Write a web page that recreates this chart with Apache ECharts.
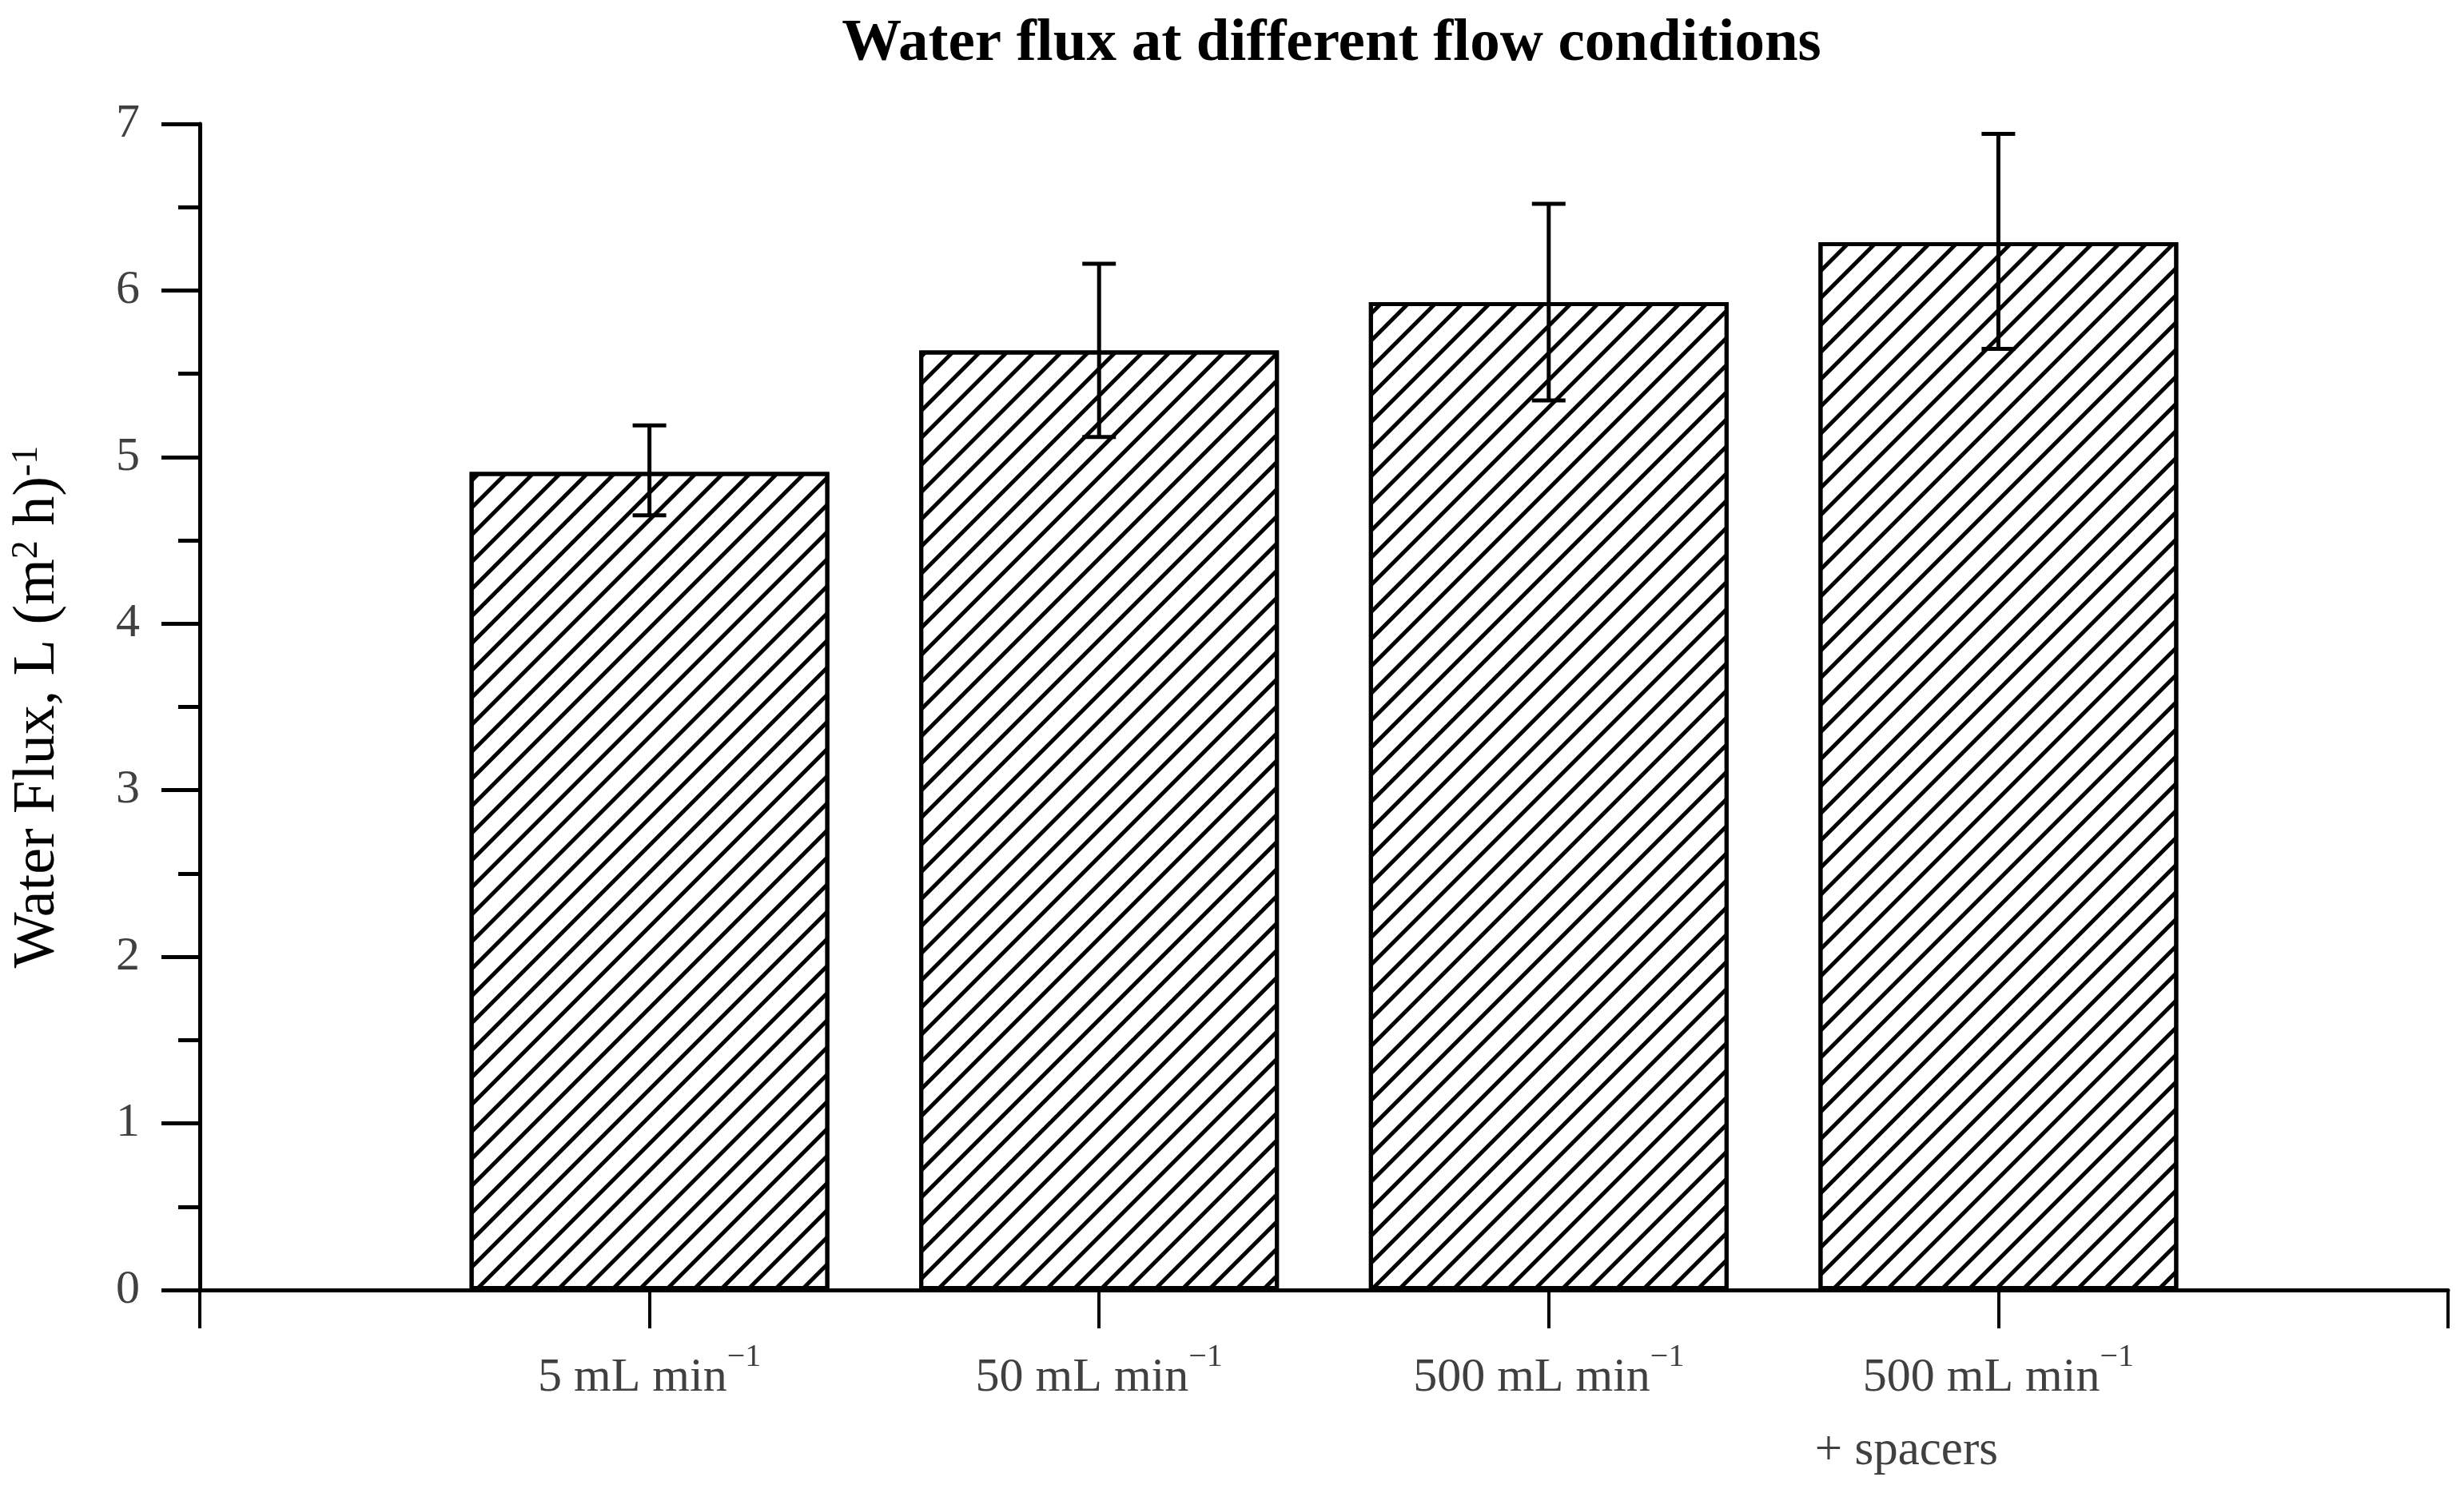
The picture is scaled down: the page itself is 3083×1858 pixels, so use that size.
<!DOCTYPE html>
<html>
<head>
<meta charset="utf-8">
<script src="https://cdn.jsdelivr.net/npm/echarts@6/dist/echarts.min.js"></script>
<style>
  html, body { margin: 0; padding: 0; background: #fff; }
  #chart { width: 3083px; height: 1858px; }
</style>
</head>
<body>
<div id="chart"></div>
<script>

// flow conditions, placed at x = 1..4 on a 0..5 axis
var positions = [1, 2, 3, 4];
var categories = ["5 mL min", "50 mL min", "500 mL min", "500 mL min"];
var secondLine = ["", "", "", "+ spacers"];

// water flux, L (m2 h)-1
var flux = [4.91, 5.64, 5.93, 6.29];
var errLow = [4.65, 5.12, 5.34, 5.65];
var errHigh = [5.19, 6.16, 6.52, 6.94];

var yTicks = [0, 1, 2, 3, 4, 5, 6, 7];


var chart = echarts.init(document.getElementById("chart"));

var barData = [];
var errData = [];
for (var i = 0; i < positions.length; i++) {
  barData.push([positions[i], flux[i]]);
  errData.push([positions[i], errLow[i], errHigh[i]]);
}

var serif = "Liberation Serif";

var option = {
  animation: false,
  backgroundColor: "#fff",

  title: {
    text: "Water flux at different flow conditions",
    left: 1661,
    top: 13,
    textAlign: "center",
    textStyle: {
      fontFamily: serif,
      fontWeight: "bold",
      fontSize: 75,
      color: "#000"
    }
  },

  grid: {
    left: 250,
    right: 20,
    top: 155,
    bottom: 244
  },

  xAxis: {
    type: "value",
    min: 0,
    max: 5,
    interval: 1,
    splitLine: { show: false },
    axisLine: {
      show: true,
      lineStyle: { color: "#000", width: 5 }
    },
    axisTick: {
      show: true,
      length: 48,
      lineStyle: { color: "#000", width: 4 }
    },
    axisLabel: {
      margin: 64,
      showMinLabel: true,
      showMaxLabel: true,
      formatter: function (v) {
        var k = positions.indexOf(Math.round(v));
        if (k < 0) return "";
        var s = "{n|" + categories[k] + "}{s|\u22121}";
        // second line ends at the tick
        if (secondLine[k]) s += "\n{r|" + secondLine[k] + "}";
        return s;
      },
      rich: {
        n: {
          fontFamily: serif,
          fontSize: 60,
          lineHeight: 92,
          color: "#404040"
        },
        s: {
          fontFamily: serif,
          fontSize: 40,
          lineHeight: 58,
          verticalAlign: "top",
          color: "#404040"
        },
        r: {
          fontFamily: serif,
          fontSize: 61,
          lineHeight: 92,
          color: "#404040",
          align: "left",
          padding: [0, 230, 0, 0]
        }
      }
    }
  },

  yAxis: {
    type: "value",
    min: yTicks[0],
    max: yTicks[yTicks.length - 1],
    interval: 1,
    name: "{a|Water Flux, L (m}{s|2}{a| h)}{s|-1}",
    nameLocation: "middle",
    nameGap: 165,
    nameTextStyle: {
      rich: {
        a: {
          fontFamily: serif,
          fontSize: 74,
          lineHeight: 74,
          color: "#000"
        },
        s: {
          fontFamily: serif,
          fontSize: 46,
          lineHeight: 46,
          verticalAlign: "top",
          color: "#000"
        }
      }
    },
    splitLine: { show: false },
    axisLine: {
      show: true,
      lineStyle: { color: "#000", width: 5 }
    },
    axisTick: {
      show: true,
      length: 48,
      lineStyle: { color: "#000", width: 5 }
    },
    minorTick: {
      show: true,
      splitNumber: 2,
      length: 27,
      lineStyle: { color: "#000", width: 5 }
    },
    axisLabel: {
      margin: 75,
      fontFamily: serif,
      fontSize: 60,
      color: "#404040"
    }
  },

  series: [
    {
      type: "bar",
      data: barData,
      barWidth: 450,
      itemStyle: {
        color: "#fff",
        borderColor: "#000",
        borderWidth: 5,
        decal: {
          symbol: "rect",
          symbolSize: 1,
          color: "#000",
          backgroundColor: "rgba(0,0,0,0)",
          dashArrayX: [1, 0],
          dashArrayY: [5, 19],
          rotation: -Math.PI / 4
        }
      },
      z: 2
    },
    {
      type: "custom",
      data: errData,
      z: 5,
      renderItem: function (params, api) {
        var x = api.value(0);
        var top = api.coord([x, api.value(2)]);
        var bot = api.coord([x, api.value(1)]);
        var cap = 21;
        var st = { stroke: "#000", lineWidth: 5 };
        return {
          type: "group",
          children: [
            { type: "line", shape: { x1: top[0], y1: top[1], x2: bot[0], y2: bot[1] }, style: st },
            { type: "line", shape: { x1: top[0] - cap, y1: top[1], x2: top[0] + cap, y2: top[1] }, style: st },
            { type: "line", shape: { x1: bot[0] - cap, y1: bot[1], x2: bot[0] + cap, y2: bot[1] }, style: st }
          ]
        };
      }
    }
  ]
};

chart.setOption(option);

</script>
</body>
</html>
